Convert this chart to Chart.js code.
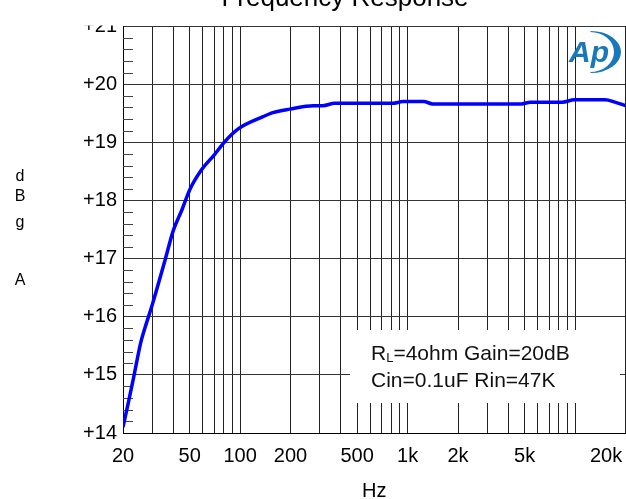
<!DOCTYPE html>
<html><head><meta charset="utf-8">
<style>html,body{margin:0;padding:0;background:#fff;overflow:hidden}canvas{display:block}</style>
<script src="https://cdn.jsdelivr.net/npm/chart.js@4.4.1/dist/chart.umd.min.js"></script>
</head><body>
<canvas id="c" width="626" height="499"></canvas>
<script>
// ---- data ----
const freqHz = [20, 21.7, 23.2, 25.5, 27, 30, 35.7, 40, 45, 50, 59, 70, 81, 97.5, 137, 157, 198, 274, 312, 367, 813, 940, 1250, 1413, 4800, 5400, 8400, 9900, 15100, 17300, 20000];
const gainDb = [14.10, 14.57, 14.97, 15.55, 15.80, 16.22, 16.98, 17.49, 17.84, 18.18, 18.53, 18.78, 19.01, 19.23, 19.44, 19.51, 19.57, 19.63, 19.63, 19.67, 19.67, 19.70, 19.70, 19.66, 19.66, 19.69, 19.69, 19.73, 19.73, 19.69, 19.63];
const xGridHz = [20,30,40,50,60,70,80,90,100,200,300,400,500,600,700,800,900,1000,2000,3000,4000,5000,6000,7000,8000,9000,10000,20000];
const xTickLabels = {20:'20',50:'50',100:'100',200:'200',500:'500',1000:'1k',2000:'2k',5000:'5k',20000:'20k'};
const yTicksDb = [14,15,16,17,18,19,20,21];
const yMinorSteps = [0.2,0.4,0.6,0.8];
const titleText = 'Frequency Response';
const xTitleText = 'Hz';
const yTitleChars = ['d','B','g','','A'];
const noteMain1 = 'R', noteSub1 = 'L', noteRest1 = '=4ohm Gain=20dB';
const noteLine2 = 'Cin=0.1uF Rin=47K';

const FONT = '"Liberation Sans", Arial, Helvetica, sans-serif';
Chart.defaults.font.family = FONT;
Chart.defaults.color = '#000';

const decor = {
  id: 'decor',
  beforeDatasetsDraw(chart) {
    const {ctx, chartArea: a} = chart;
    const ys = chart.scales.y;
    ctx.save();
    // minor ticks inside the left axis
    ctx.strokeStyle = '#444';
    ctx.lineWidth = 1;
    ctx.beginPath();
    yTicksDb.slice(0, -1).forEach(t => yMinorSteps.forEach(s => {
      const py = Math.round(ys.getPixelForValue(t + s)) + 0.5;
      ctx.moveTo(a.left, py); ctx.lineTo(a.left + 10, py);
    }));
    ctx.stroke();
    // note box
    ctx.fillStyle = '#fff';
    ctx.fillRect(350, 330, 270, 73);
    ctx.fillStyle = '#111';
    ctx.textBaseline = 'alphabetic';
    ctx.textAlign = 'left';
    ctx.font = '21px ' + FONT;
    let x = 371;
    ctx.fillText(noteMain1, x, 360);
    x += ctx.measureText(noteMain1).width;
    ctx.font = '13px ' + FONT;
    ctx.fillText(noteSub1, x, 362);
    x += ctx.measureText(noteSub1).width;
    ctx.font = '21px ' + FONT;
    ctx.fillText(noteRest1, x, 360);
    ctx.fillText(noteLine2, 371, 387);
    ctx.restore();
  },
  afterDraw(chart) {
    const {ctx, chartArea: a} = chart;
    ctx.save();
    // clip band above plot (top label is cut in reference)
    ctx.fillStyle = '#fff';
    ctx.fillRect(0, 0, a.left - 1, a.top - 0.5);
    // title
    ctx.fillStyle = '#000';
    ctx.font = '26px ' + FONT;
    ctx.textAlign = 'center';
    ctx.textBaseline = 'alphabetic';
    ctx.fillText(titleText, 345, 6);
    // y title stacked letters
    ctx.font = '16px ' + FONT;
    const base = [181, 201, 227, 256, 285];
    yTitleChars.forEach((ch, i) => { if (ch) ctx.fillText(ch, 20, base[i]); });
    // AP logo
    const blue = '#1a78ba';
    ctx.fillStyle = blue;
    ctx.font = 'italic bold 30px ' + FONT;
    ctx.textAlign = 'left';
    ctx.fillText('Ap', 569, 62);
    ctx.beginPath();
    ctx.ellipse(591, 52, 30, 21, 0, -Math.PI / 2, Math.PI / 2, false);
    ctx.ellipse(590, 52, 24, 20, 0, Math.PI / 2, -Math.PI / 2, true);
    ctx.closePath();
    ctx.fill();
    ctx.restore();
  }
};

new Chart(document.getElementById('c'), {
  type: 'line',
  data: {
    datasets: [{
      data: freqHz.map((f, i) => ({x: f, y: gainDb[i]})),
      borderColor: '#0000ff',
      borderWidth: 3.5,
      pointRadius: 0,
      cubicInterpolationMode: 'monotone',
      fill: false
    }]
  },
  options: {
    responsive: false,
    animation: false,
    events: [],
    layout: {padding: {top: 26, left: 0, right: 0.5, bottom: 0}},
    plugins: {legend: {display: false}, title: {display: false}, tooltip: {enabled: false}},
    scales: {
      x: {
        type: 'logarithmic',
        min: 20, max: 20000,
        afterBuildTicks: s => { s.ticks = xGridHz.map(v => ({value: v})); },
        afterFit: s => { s.height = 66; s.paddingLeft = 0; s.paddingRight = 0; },
        grid: {color: '#222', lineWidth: 1, drawTicks: false},
        border: {color: '#000', width: 1},
        ticks: {
          autoSkip: false, maxRotation: 0, minRotation: 0, padding: 11,
          font: {size: 20},
          callback: v => v === 20000 ? '20k       ' : (xTickLabels[v] || '')
        },
        title: {display: true, text: xTitleText, font: {size: 20, lineHeight: 0.8}, padding: {top: 0, bottom: 0}}
      },
      y: {
        min: 14, max: 21,
        afterBuildTicks: s => { s.ticks = yTicksDb.map(v => ({value: v})); },
        afterFit: s => { s.width = 123; s.paddingTop = 0; s.paddingBottom = 0; },
        grid: {color: '#333', lineWidth: 1, drawTicks: false},
        border: {color: '#000', width: 1},
        ticks: {padding: 6, font: {size: 20}, callback: v => '+' + v}
      }
    }
  },
  plugins: [decor]
});
</script>
</body></html>
